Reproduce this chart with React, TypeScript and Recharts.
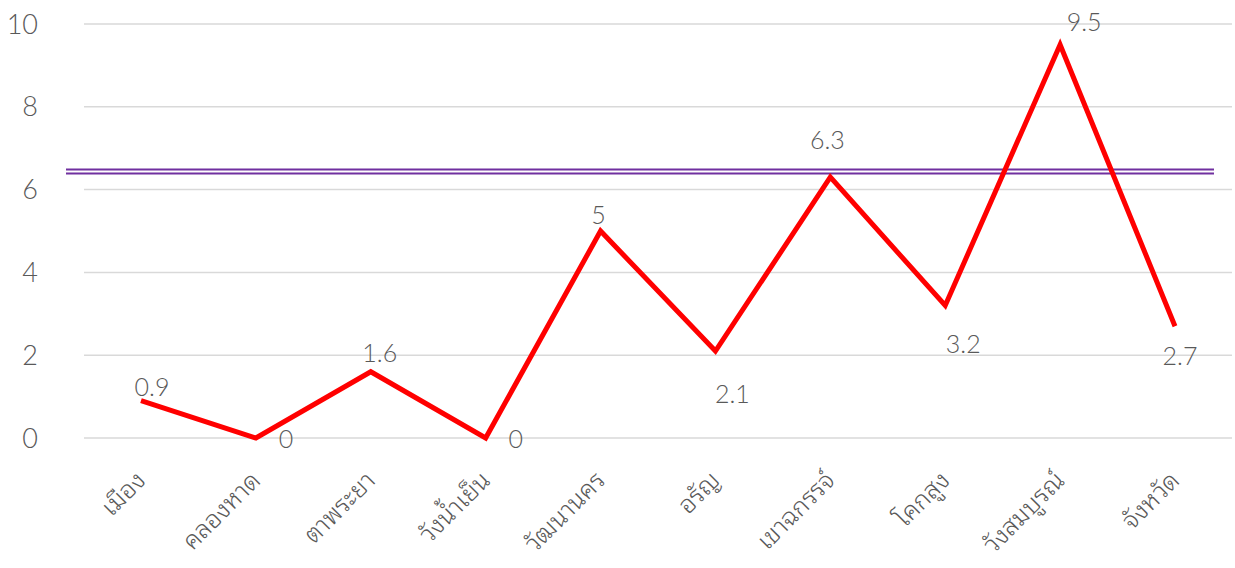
import React from "react";
import { LineChart, Line, XAxis, YAxis, CartesianGrid, ReferenceLine, LabelList } from "recharts";

const districts = [
  "เมือง",
  "คลองหาด",
  "ตาพระยา",
  "วังน้ำเย็น",
  "วัฒนานคร",
  "อรัญ",
  "เขาฉกรรจ์",
  "โคกสูง",
  "วังสมบูรณ์",
  "จังหวัด",
];
const values = [0.9, 0, 1.6, 0, 5, 2.1, 6.3, 3.2, 9.5, 2.7];
const yTicks = [0, 2, 4, 6, 8, 10];
const targetLine = 6.44;
// nudge for each data label, relative to its point [dx, dy]
const labelNudge = [
  [11, -5],
  [30, 10],
  [9, -10],
  [30, 10],
  [-2, -7],
  [17, 52],
  [-3, -28],
  [18, 47],
  [24, -14],
  [5, 39],
];

const data = districts.map((name, i) => ({ name, value: values[i] }));

const FONT = "Lato, 'Noto Sans Thai Looped', 'Noto Sans', sans-serif";
const GREY = "#595959";

const XTick = (props: any) => {
  const { x, y, payload } = props;
  const ax = x + 6;
  const ay = y + 36;
  return (
    <text
      x={ax}
      y={ay}
      transform={`rotate(-45 ${ax} ${ay})`}
      textAnchor="end"
      fill={GREY}
      fontSize={25}
      fontWeight={300}
      fontFamily={FONT}
    >
      {payload.value}
    </text>
  );
};

const PointLabel = (props: any) => {
  const { x, y, value, index } = props;
  const [dx, dy] = labelNudge[index];
  return (
    <text x={x + dx} y={y + dy} textAnchor="middle" fill={GREY} fontSize={25} fontWeight={300} fontFamily={FONT}>
      {value}
    </text>
  );
};

const DoubleLine = (props: any) => {
  const { x1, y1, x2 } = props;
  const shift = 18;
  return (
    <g>
      <line x1={x1 - shift} x2={x2 - shift} y1={y1 - 2} y2={y1 - 2} stroke="#7030A0" strokeWidth={2} />
      <line x1={x1 - shift} x2={x2 - shift} y1={y1 + 2} y2={y1 + 2} stroke="#7030A0" strokeWidth={2} />
    </g>
  );
};

export default function App() {
  return (
    <div style={{ position: "absolute", left: 0, top: 0, background: "#fff" }}>
      <LineChart width={1235} height={568} data={data} margin={{ top: 24, right: 3, left: 0, bottom: 0 }}>
        <CartesianGrid vertical={false} stroke="#d9d9d9" strokeWidth={1.5} />
        <XAxis
          dataKey="name"
          axisLine={false}
          tickLine={false}
          interval={0}
          height={130}
          padding={{ left: 57, right: 57 }}
          tick={<XTick />}
        />
        <YAxis
          domain={[0, 10]}
          ticks={yTicks}
          axisLine={false}
          tickLine={false}
          width={84}
          tickMargin={40}
          tick={{ fill: GREY, fontSize: 27, fontWeight: 300, fontFamily: FONT }}
        />
        <ReferenceLine y={targetLine} shape={<DoubleLine />} />
        <Line
          type="linear"
          dataKey="value"
          stroke="#FF0000"
          strokeWidth={5}
          dot={false}
          isAnimationActive={false}
        >
          <LabelList dataKey="value" content={<PointLabel />} />
        </Line>
      </LineChart>
    </div>
  );
}
